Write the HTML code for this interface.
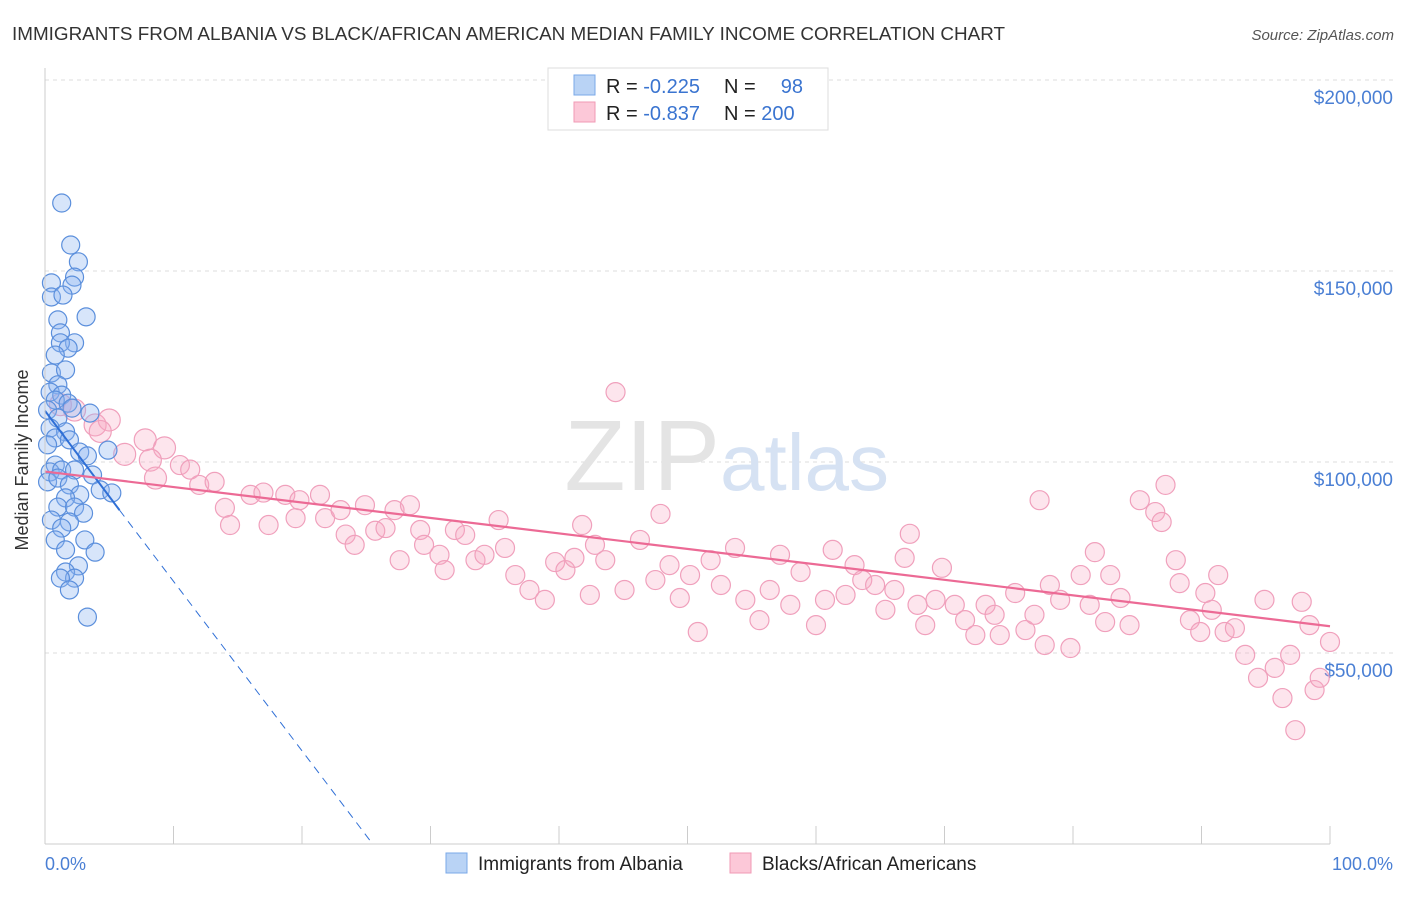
<!DOCTYPE html>
<html><head><meta charset="utf-8"><style>
body{margin:0;background:#fff;font-family:"Liberation Sans",sans-serif;}
svg text{font-family:"Liberation Sans",sans-serif;}
</style></head><body>
<svg id="chart" width="1406" height="892" xmlns="http://www.w3.org/2000/svg">
<text x="12" y="40" font-size="18" fill="#333" textLength="993" lengthAdjust="spacingAndGlyphs">IMMIGRANTS FROM ALBANIA VS BLACK/AFRICAN AMERICAN MEDIAN FAMILY INCOME CORRELATION CHART</text>
<text x="1394" y="40" font-size="15" fill="#555" font-style="italic" text-anchor="end">Source: ZipAtlas.com</text>
<g id="grid"></g>
<text x="720" y="490" font-size="100" fill="#e4e4e4" text-anchor="end" font-family="Liberation Serif">ZIP</text>
<text x="720" y="490" font-size="80" fill="#d6e2f3">atlas</text>
<g id="pink"></g>
<g id="blue"></g>
<g id="trends"></g>
<g id="axes"></g>
<text x="28" y="460" font-size="18" fill="#333" text-anchor="middle" transform="rotate(-90 28 460)">Median Family Income</text>
<text x="45" y="870" font-size="18" fill="#4a7fd4">0.0%</text>
<text x="1393" y="870" font-size="18" fill="#4a7fd4" text-anchor="end">100.0%</text>
<g>
<rect x="548" y="68" width="280" height="62" fill="#fff" stroke="#ddd"/>
<rect x="574" y="75" width="21" height="20" fill="#b9d3f5" stroke="#7aa8e8"/>
<rect x="574" y="102" width="21" height="20" fill="#fcc8d8" stroke="#f09ab5"/>
<text x="606" y="93" font-size="20" fill="#222">R = <tspan fill="#3a74d0">-0.225</tspan></text>
<text x="724" y="93" font-size="20" fill="#222">N = </text><text x="803" y="93" font-size="20" fill="#3a74d0" text-anchor="end">98</text>
<text x="606" y="120" font-size="20" fill="#222">R = <tspan fill="#3a74d0">-0.837</tspan></text>
<text x="724" y="120" font-size="20" fill="#222">N = <tspan fill="#3a74d0">200</tspan></text>
</g>
<g>
<rect x="446" y="853" width="21" height="20" fill="#b9d3f5" stroke="#7aa8e8"/>
<text x="478" y="870" font-size="19" fill="#222">Immigrants from Albania</text>
<rect x="730" y="853" width="21" height="20" fill="#fcc8d8" stroke="#f09ab5"/>
<text x="762" y="870" font-size="19" fill="#222">Blacks/African Americans</text>
</g>
</svg>
<script>
const yTicks=[50000,100000,150000,200000];
const yTickLabels=["$50,000","$100,000","$150,000","$200,000"];
const blueX=[1.3,2,2.6,2.3,0.5,2.1,0.5,1.4,3.2,1,1.2,2.3,1.2,1.8,0.8,0.5,1.6,1,0.4,1.3,0.8,1.8,0.2,2.1,3.5,1,0.4,1.6,0.8,1.9,0.2,4.9,2.7,3.3,0.8,0.4,1.3,2.3,3.7,0.2,1,1.9,4.3,5.2,2.7,1.6,1,2.3,3,0.5,1.9,1.3,0.8,3.1,1.6,3.9,2.6,1.6,2.3,1.2,1.9,3.3];
const blueY=[167.8,156.8,152.4,148.4,146.9,146.3,143.2,143.7,138,137.2,133.8,131.2,131.2,129.8,128,123.3,124.1,120.2,118.3,117.5,116.2,115.4,113.6,114.1,112.8,111.5,108.9,107.9,106.3,105.8,104.5,103.1,102.6,101.6,99.2,97.4,97.9,97.9,96.6,94.8,95.8,94,92.7,91.9,91.4,90.6,88.2,88.2,86.6,84.8,84.3,82.7,79.6,79.6,77,76.4,72.8,71.2,69.6,69.6,66.5,59.4];
const pinkX=[1.2,2.3,3.9,5,4.3,6.2,7.8,9.3,8.2,8.6,10.5,11.3,12,13.2,14,14.4,16,17,17.4,18.7,19.5,19.8,21.4,21.8,23,23.4,24.1,24.9,25.7,26.5,27.2,27.6,28.4,29.2,29.5,30.7,31.1,31.9,32.7,33.5,34.2,35.3,35.8,36.6,37.7,38.9,39.7,40.5,41.2,41.8,42.4,42.8,43.6,44.4,45.1,46.3,47.5,47.9,48.6,49.4,50.2,50.8,51.8,52.6,53.7,54.5,55.6,56.4,57.2,58,58.8,60,60.7,61.3,62.3,63,63.6,64.6,65.4,66.1,66.9,67.3,67.9,68.5,69.3,69.8,70.8,71.6,72.4,73.2,73.9,74.3,75.5,76.3,77,77.8,78.2,79,79.8,80.6,81.3,81.7,82.5,82.9,83.7,84.4,85.2,86.4,86.9,87.2,88,88.3,89.1,89.9,90.8,91.3,91.8,92.6,93.4,94.4,94.9,95.7,96.3,96.9,97.3,97.8,98.4,98.8,99.2,100,77.4,90.3];
const pinkY=[115,113.6,109.7,111,108,102,105.8,103.7,100.5,95.8,99.2,98,94,94.8,88,83.5,91.4,92,83.5,91.4,85.3,90,91.4,85.3,87.4,81,78.3,88.7,82,82.7,87.4,74.3,88.7,82.2,78.3,75.7,71.7,82.2,80.9,74.3,75.7,84.8,77.5,70.4,66.5,63.9,73.8,71.7,74.9,83.5,65.2,78.3,74.3,118.3,66.5,79.6,69.1,86.4,73,64.4,70.4,55.5,74.3,67.8,77.5,63.9,58.6,66.5,75.7,62.6,71.2,57.3,63.9,77,65.2,73,69.1,67.8,61.3,66.5,74.9,81.2,62.6,57.3,63.9,72.3,62.6,58.6,54.7,62.6,60,54.7,65.7,56,60,52.1,67.8,63.9,51.3,70.4,62.6,76.4,58.1,70.4,64.4,57.3,90,86.9,84.3,94,74.3,68.3,58.6,55.5,61.3,70.4,55.5,56.5,49.5,43.5,63.9,46.1,38.2,49.5,29.8,63.4,57.3,40.3,43.5,52.9,90,65.7];
const blueTrend=[[0,113.4],[5.8,87.4],[25.5,0]];
const pinkTrend=[[0,97.5],[100,57]];
const X=p=>45+p*12.85, Y=v=>844-v*3.82;
const NS="http://www.w3.org/2000/svg";
function mk(t,a,parent){const e=document.createElementNS(NS,t);for(const k in a)e.setAttribute(k,a[k]);document.getElementById(parent).appendChild(e);return e;}
yTicks.forEach((v,i)=>{
 const l=mk('line',{x1:45,x2:1394,y1:Y(v/1000),y2:Y(v/1000),stroke:'#ddd','stroke-dasharray':'4,4'},'grid');
 
 
 const t=mk('text',{x:1393,y:Y(v/1000)+24,'font-size':19,fill:'#4a7fd4','text-anchor':'end'},'grid');
 t.textContent=yTickLabels[i];
 
 
});
const ax=mk('line',{x1:45,x2:1330,y1:844,y2:844,stroke:'#ccc'},'axes');


const ay=mk('line',{x1:45,x2:45,y1:68,y2:844,stroke:'#ccc'},'axes');


for(let i=0;i<=10;i++){const t=mk('line',{x1:X(i*10),x2:X(i*10),y1:826,y2:844,stroke:'#ccc'},'axes');
 
 }
pinkX.forEach((x,i)=>{const c=mk('circle',{cx:X(x),cy:Y(pinkY[i]),r:x<10?11:9.5,fill:'rgba(248,170,195,0.3)',stroke:'#f0a0bc','stroke-width':1.2},'pink');
 
 });
blueX.forEach((x,i)=>{const c=mk('circle',{cx:X(x),cy:Y(blueY[i]),r:9,fill:'rgba(140,180,240,0.35)',stroke:'#5b8fdc','stroke-width':1.2},'blue');
 
 });
const bm=mk('line',{x1:X(blueTrend[0][0]),y1:Y(blueTrend[0][1]),x2:X(blueTrend[1][0]),y2:Y(blueTrend[1][1]),stroke:'#2f6fd6','stroke-width':2},'trends');


const bd=mk('line',{x1:X(blueTrend[1][0]),y1:Y(blueTrend[1][1]),x2:X(blueTrend[2][0]),y2:Y(blueTrend[2][1]),stroke:'#2f6fd6','stroke-width':1,'stroke-dasharray':'8,6'},'trends');


const pl=mk('line',{x1:X(pinkTrend[0][0]),y1:Y(pinkTrend[0][1]),x2:X(pinkTrend[1][0]),y2:Y(pinkTrend[1][1]),stroke:'#ec6a95','stroke-width':2.2},'trends');


</script>
</body></html>
